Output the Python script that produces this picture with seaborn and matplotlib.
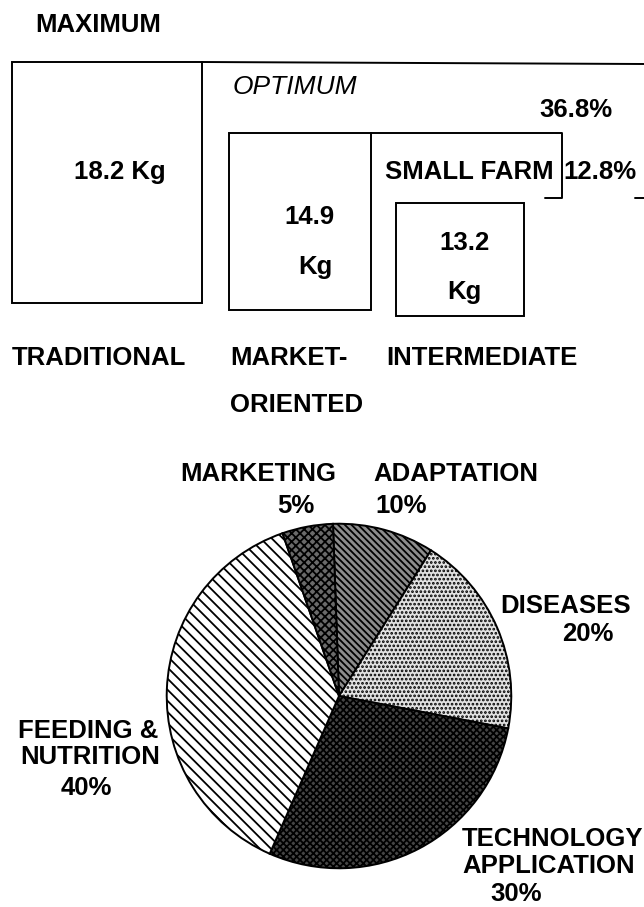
import matplotlib
matplotlib.use("Agg")
import matplotlib.pyplot as plt
import seaborn as sns

# ---------------- data ----------------
systems = ["TRADITIONAL", "MARKET-", "ORIENTED", "INTERMEDIATE"]
yields_kg = [18.2, 14.9, 13.2]
level_labels = ["MAXIMUM", "OPTIMUM", "SMALL FARM"]
gap_labels = ["36.8%", "12.8%"]
constraints = ["ADAPTATION", "DISEASES", "TECHNOLOGY\nAPPLICATION", "FEEDING &\nNUTRITION", "MARKETING"]
constraint_pct = [10, 20, 30, 40, 5]

# ---------------- style ----------------
sns.set_theme(style="white")
plt.rcParams["font.family"] = ["Liberation Sans", "DejaVu Sans"]
plt.rcParams["hatch.linewidth"] = 1.3

W, H = 644, 907
fig = plt.figure(figsize=(W / 100, H / 100), dpi=100)
fig.patch.set_facecolor("white")

# layout axes in pixel coordinates
ax = fig.add_axes([0, 0, 1, 1])
ax.set_xlim(0, W)
ax.set_ylim(H, 0)
ax.axis("off")

lw = 1.4
# box geometry (layout only): left, width, top, height
box_left = [12, 229, 396]
box_width = [190, 142, 128]
box_top = [62, 133, 203]
box_height = [241, 177, 113]
ax.bar(box_left, box_height, width=box_width, bottom=box_top, align="edge",
       fill=False, edgecolor="black", linewidth=lw)

# optimum / small-farm outline lines
ax.plot([202, 644], [62, 64], color="black", lw=lw)
ax.plot([371, 562, 562, 545], [133, 133, 198, 198], color="black", lw=lw)
ax.plot([635, 644], [198, 198], color="black", lw=lw)

fs = 18.5
kw = dict(fontsize=fs, fontweight="bold", color="black", va="center")
ax.text(35, 25, level_labels[0], ha="left", **kw)
ax.text(233, 87, level_labels[1], ha="left", fontsize=19, fontstyle="italic",
        color="black", va="center")
ax.text(385, 172, level_labels[2], ha="left", **kw)
ax.text(576, 110, gap_labels[0], ha="center", **kw)
ax.text(563, 172, gap_labels[1], ha="left", **kw)

ax.text(120, 172, f"{yields_kg[0]} Kg", ha="center", **kw)
ax.text(309, 217, f"{yields_kg[1]}", ha="center", **kw)
ax.text(315, 267, "Kg", ha="center", **kw)
ax.text(465, 243, f"{yields_kg[2]}", ha="center", **kw)
ax.text(464, 292, "Kg", ha="center", **kw)

ax.text(12, 358, systems[0], ha="left", **kw)
ax.text(230, 358, systems[1], ha="left", **kw)
ax.text(230, 405, systems[2], ha="left", **kw)
ax.text(386, 358, systems[3], ha="left", **kw)

# ---------------- pie ----------------
cx, cy, r = 339, 696, 174
pax = fig.add_axes([(cx - r) / W, (H - cy - r) / H, 2 * r / W, 2 * r / H])
faces = ["#8c8c8c", "#e2e2e2", "#454545", "white", "#6a6a6a"]
hatches = ["\\\\\\\\\\", "....", "xxxxx", "\\\\\\", "xxxx"]
wedges, _ = pax.pie(constraint_pct, startangle=92, counterclock=False, radius=1,
                    colors=faces,
                    wedgeprops=dict(edgecolor="black", linewidth=1.4))
for w_, h_ in zip(wedges, hatches):
    w_.set_hatch(h_)
pax.set_xlim(-1.01, 1.01)
pax.set_ylim(-1.01, 1.01)
pax.axis("off")

pk = dict(fontsize=18.5, fontweight="bold", color="black", va="center")
pct = [f"{p}%" for p in constraint_pct]
# MARKETING
ax.text(258, 474, constraints[4], ha="center", **pk)
ax.text(296, 506, pct[4], ha="center", **pk)
# ADAPTATION
ax.text(373, 474, constraints[0], ha="left", **pk)
ax.text(375, 506, pct[0], ha="left", **pk)
# DISEASES
ax.text(566, 606, constraints[1], ha="center", **pk)
ax.text(588, 634, pct[1], ha="center", **pk)
# FEEDING & NUTRITION
fl = constraints[3].split("\n")
ax.text(88, 731, fl[0], ha="center", **pk)
ax.text(90, 757, fl[1], ha="center", **pk)
ax.text(86, 788, pct[3], ha="center", **pk)
# TECHNOLOGY APPLICATION
tl = constraints[2].split("\n")
ax.text(462, 839, tl[0], ha="left", **pk)
ax.text(462, 866, tl[1], ha="left", **pk)
ax.text(516, 894, pct[2], ha="center", **pk)

fig.savefig("out.png", dpi=100, facecolor="white")
